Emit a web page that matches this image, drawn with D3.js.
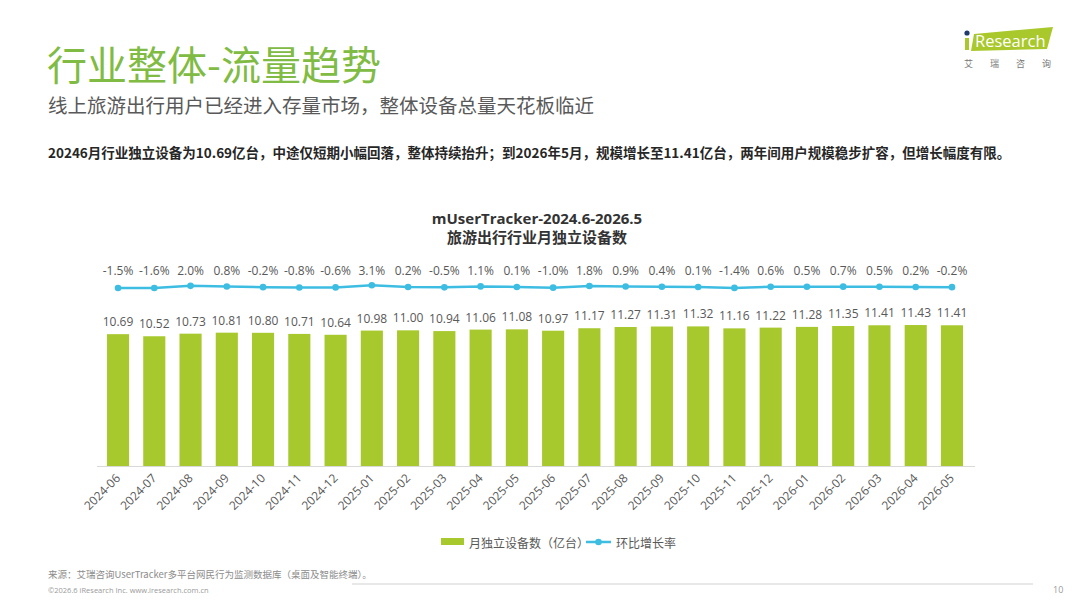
<!DOCTYPE html>
<html><head><meta charset="utf-8">
<script src="https://cdn.jsdelivr.net/npm/d3@7/dist/d3.min.js"></script>
<style>
html,body{margin:0;padding:0;background:#fff;}
svg{display:block;font-family:"Open Sans","Noto Sans CJK SC",sans-serif;}
</style></head><body>
<svg id="c" width="1080" height="608"></svg>
<script>
const categories = ["2024-06","2024-07","2024-08","2024-09","2024-10","2024-11","2024-12","2025-01","2025-02","2025-03","2025-04","2025-05","2025-06","2025-07","2025-08","2025-09","2025-10","2025-11","2025-12","2026-01","2026-02","2026-03","2026-04","2026-05"];
const devices = [10.69,10.52,10.73,10.81,10.80,10.71,10.64,10.98,11.00,10.94,11.06,11.08,10.97,11.17,11.27,11.31,11.32,11.16,11.22,11.28,11.35,11.41,11.43,11.41];
const growth = [-1.5,-1.6,2.0,0.8,-0.2,-0.8,-0.6,3.1,0.2,-0.5,1.1,0.1,-1.0,1.8,0.9,0.4,0.1,-1.4,0.6,0.5,0.7,0.5,0.2,-0.2];
const legendLabels = ["月独立设备数（亿台）","环比增长率"];

const svg = d3.select("#c");
const green = "#a8c92e", blue = "#3ebde2", cjk = '"Noto Sans CJK SC","Open Sans",sans-serif';

// Header
svg.append("text").attr("x",47).attr("y",80).attr("font-size",40).attr("fill","#80bb43")
  .attr("font-family",cjk).text("行业整体-流量趋势");
svg.append("text").attr("x",48).attr("y",113).attr("font-size",19.5).attr("fill","#595959")
  .attr("font-family",cjk).text("线上旅游出行用户已经进入存量市场，整体设备总量天花板临近");
svg.append("text").attr("x",48).attr("y",158).attr("font-size",13.5).attr("font-weight","bold").attr("fill","#262626")
  .attr("font-family",cjk).text("20246月行业独立设备为10.69亿台，中途仅短期小幅回落，整体持续抬升；到2026年5月，规模增长至11.41亿台，两年间用户规模稳步扩容，但增长幅度有限。");

// Logo
const logo = svg.append("g");
logo.append("polygon").attr("points","974,34 1053,27 1047,49 971,51").attr("fill","#a9c82c");
logo.append("rect").attr("x",965).attr("y",38).attr("width",4).attr("height",12).attr("fill","#a9c82c");
logo.append("circle").attr("cx",967).attr("cy",33).attr("r",2.6).attr("fill","#1f3a6b");
logo.append("text").attr("x",975).attr("y",47).attr("font-size",16.5).attr("fill","#fff").attr("font-family","Open Sans").text("Research");
["艾","瑞","咨","询"].forEach((t,i)=>logo.append("text").attr("x",964+i*26).attr("y",67).attr("font-size",9).attr("fill","#777").attr("font-family",cjk).text(t));

// Chart title
svg.append("text").attr("x",537).attr("y",224).attr("text-anchor","middle").attr("font-size",15).attr("font-weight","bold").attr("fill","#333").text("mUserTracker-2024.6-2026.5");
svg.append("text").attr("x",537).attr("y",243).attr("text-anchor","middle").attr("font-size",15).attr("font-weight","bold").attr("fill","#333").attr("font-family",cjk).text("旅游出行行业月独立设备数");

// Scales
const x = d3.scaleBand().domain(categories).range([99.9, 970.1]).paddingInner(0.39).paddingOuter(0.195);
const y = d3.scaleLinear().domain([0, 12]).range([466, 318]);
const y2 = d3.scaleLinear().domain([-1.6, 3.1]).range([288, 285.2]);

// Axis baseline
svg.append("line").attr("x1",97).attr("x2",975).attr("y1",466.5).attr("y2",466.5).attr("stroke","#d9d9d9").attr("stroke-width",1);

// Bars
svg.append("g").selectAll("rect").data(devices).join("rect")
  .attr("x",(d,i)=>x(categories[i])).attr("width",x.bandwidth())
  .attr("y",d=>y(d)).attr("height",d=>y(0)-y(d)).attr("fill",green);
svg.append("g").selectAll("text").data(devices).join("text")
  .attr("x",(d,i)=>x(categories[i])+x.bandwidth()/2).attr("y",d=>y(d)-8)
  .attr("text-anchor","middle").attr("font-size",12).attr("fill","#595959").text(d=>d.toFixed(2));

// X axis labels
const xa = svg.append("g").attr("transform","translate(0,466)")
  .call(d3.axisBottom(x).tickSize(0).tickPadding(0));
xa.select(".domain").remove();
xa.selectAll("text").attr("font-size",12).attr("fill","#595959").attr("font-family","Open Sans")
  .attr("text-anchor","end").attr("dy",0).attr("transform","translate(3,13) rotate(-45)");

// Line
const cx = (d,i)=>x(categories[i])+x.bandwidth()/2;
svg.append("path").datum(growth).attr("fill","none").attr("stroke",blue).attr("stroke-width",2.5)
  .attr("d",d3.line().x(cx).y(d=>y2(d)));
svg.append("g").selectAll("circle").data(growth).join("circle")
  .attr("cx",cx).attr("cy",d=>y2(d)).attr("r",3.3).attr("fill",blue);
svg.append("g").selectAll("text").data(growth).join("text")
  .attr("x",cx).attr("y",275).attr("text-anchor","middle").attr("font-size",12).attr("fill","#595959")
  .text(d=>d.toFixed(1)+"%");

// Legend
const lg = svg.append("g").attr("font-family",cjk).attr("font-size",12).attr("fill","#595959");
lg.append("rect").attr("x",441).attr("y",538).attr("width",23).attr("height",7).attr("fill",green);
lg.append("text").attr("x",469).attr("y",547.5).text(legendLabels[0]);
lg.append("line").attr("x1",586).attr("x2",611).attr("y1",542).attr("y2",542).attr("stroke",blue).attr("stroke-width",2.5);
lg.append("circle").attr("cx",598.5).attr("cy",542).attr("r",3.3).attr("fill",blue);
lg.append("text").attr("x",616).attr("y",547.5).text(legendLabels[1]);

// Footer
svg.append("text").attr("x",48).attr("y",578).attr("font-size",9.5).attr("fill","#8c8c8c").attr("font-family",cjk)
  .text("来源：艾瑞咨询UserTracker多平台网民行为监测数据库（桌面及智能终端）。");
svg.append("line").attr("x1",352).attr("x2",1033).attr("y1",584).attr("y2",584).attr("stroke","#e0e0e0").attr("stroke-width",1.5);
svg.append("text").attr("x",48).attr("y",593).attr("font-size",7.5).attr("fill","#9a9a9a").text("©2026.6 iResearch Inc. www.iresearch.com.cn");
svg.append("text").attr("x",1053).attr("y",593).attr("font-size",9).attr("fill","#9a9a9a").text("10");
</script>
</body></html>
